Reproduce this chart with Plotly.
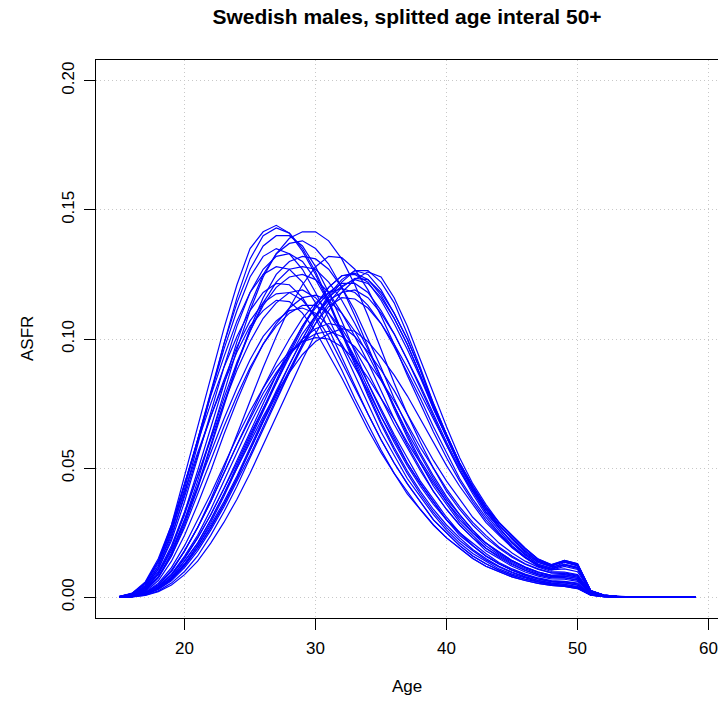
import plotly.graph_objects as go

ages = [15, 16, 17, 18, 19, 20, 21, 22, 23, 24, 25, 26, 27, 28, 29, 30, 31, 32, 33, 34,
        35, 36, 37, 38, 39, 40, 41, 42, 43, 44, 45, 46, 47, 48, 49, 50, 51, 52, 53, 54,
        55, 56, 57, 58, 59]

asfr_e1 = [.0003, .0015, .0055, .014, .028, .047, .067, .086, .104, .121,
           .135, .1415, .144, .141, .134, .125, .114, .102, .090, .078,
           .067, .057, .048, .040, .033, .027, .022, .018, .0145, .0118,
           .0095, .0078, .0065, .0055, .0050, .0040, .0010, .0004, .0002, .0001,
           .0001, .0001, 0, 0, 0]
asfr_e2 = [.0002, .001, .004, .011, .023, .040, .059, .079, .098, .116,
           .131, .140, .143, .141, .135, .126, .115, .103, .091, .079,
           .068, .058, .049, .041, .034, .028, .023, .0185, .015, .012,
           .0098, .008, .0066, .0056, .0050, .0042, .0011, .0004, .0002, .0001,
           .0001, 0, 0, 0, 0]
asfr_e3 = [.0003, .0014, .005, .013, .026, .043, .061, .079, .096, .111,
           .124, .132, .135, .133, .127, .118, .108, .097, .086, .075,
           .064, .055, .046, .039, .032, .026, .021, .017, .014, .011,
           .009, .0074, .0061, .0052, .0046, .0038, .0009, .0003, .0002, .0001,
           .0001, 0, 0, 0, 0]
asfr_e4 = [.0003, .0015, .0055, .014, .027, .044, .061, .078, .093, .107,
           .118, .125, .128, .127, .122, .114, .104, .093, .082, .071,
           .061, .052, .044, .037, .030, .025, .020, .016, .013, .0105,
           .0085, .007, .0058, .0049, .0044, .0036, .0009, .0003, .0001, .0001,
           0, 0, 0, 0, 0]
asfr_e5 = [.0002, .0012, .0045, .012, .024, .039, .055, .070, .084, .097,
           .107, .114, .1175, .118, .115, .109, .101, .091, .081, .071,
           .061, .052, .044, .037, .030, .025, .020, .016, .013, .0105,
           .0085, .007, .0058, .0049, .0045, .0037, .0009, .0003, .0001, .0001,
           0, 0, 0, 0, 0]
asfr_e6 = [.0002, .0011, .004, .011, .022, .037, .054, .072, .089, .105,
           .118, .127, .132, .133, .130, .123, .114, .103, .092, .081,
           .070, .060, .051, .043, .036, .030, .024, .020, .016, .013,
           .0105, .0086, .0071, .0061, .0056, .0047, .0011, .0004, .0002, .0001,
           0, 0, 0, 0, 0]
asfr_e7 = [.0003, .0016, .006, .015, .028, .044, .060, .075, .089, .101,
           .111, .118, .1215, .121, .116, .108, .098, .088, .077, .067,
           .057, .048, .041, .034, .028, .023, .019, .015, .012, .0098,
           .0079, .0065, .0054, .0046, .0042, .0034, .0008, .0003, .0001, .0001,
           0, 0, 0, 0, 0]
asfr_e8 = [.0002, .0012, .0045, .012, .025, .042, .061, .080, .098, .114,
           .127, .136, .140, .140, .136, .128, .118, .107, .095, .083,
           .072, .062, .052, .044, .037, .030, .025, .020, .016, .013,
           .0105, .0086, .0071, .0061, .0056, .0047, .0011, .0004, .0002, .0001,
           0, 0, 0, 0, 0]
asfr_e9 = [.0003, .0015, .0055, .014, .026, .041, .056, .070, .083, .095,
           .105, .111, .115, .1145, .110, .103, .094, .085, .075, .065,
           .056, .048, .040, .034, .028, .023, .019, .015, .012, .0098,
           .0079, .0065, .0054, .0046, .0042, .0034, .0008, .0003, .0001, .0001,
           0, 0, 0, 0, 0]

asfr_m1 = [.0001, .0007, .0028, .008, .017, .030, .045, .062, .079, .096,
           .111, .124, .133, .139, .1415, .1415, .138, .131, .121, .109,
           .096, .083, .071, .060, .050, .041, .034, .028, .023, .019,
           .0155, .0128, .0108, .0095, .0095, .0085, .0018, .0006, .0003, .0002,
           .0001, .0001, 0, 0, 0]
asfr_m2 = [.0001, .0008, .003, .009, .019, .033, .049, .066, .083, .099,
           .113, .125, .133, .137, .138, .135, .129, .120, .109, .097,
           .085, .073, .062, .052, .043, .036, .029, .024, .019, .016,
           .013, .0105, .0088, .0076, .0075, .0066, .0015, .0005, .0002, .0001,
           .0001, 0, 0, 0, 0]
asfr_m3 = [.0001, .0006, .0025, .0075, .016, .028, .042, .058, .074, .090,
           .104, .116, .125, .130, .132, .131, .127, .120, .111, .100,
           .089, .077, .066, .056, .047, .039, .032, .026, .021, .0175,
           .0142, .0117, .0098, .0085, .0088, .0078, .0017, .0006, .0003, .0001,
           .0001, 0, 0, 0, 0]
asfr_m4 = [.0002, .001, .0035, .0095, .019, .032, .047, .062, .077, .091,
           .103, .113, .120, .124, .125, .123, .118, .110, .101, .091,
           .080, .069, .059, .050, .041, .034, .028, .023, .018, .015,
           .012, .0098, .0082, .0071, .0070, .0062, .0014, .0005, .0002, .0001,
           0, 0, 0, 0, 0]
asfr_m5 = [.0002, .001, .0038, .010, .020, .033, .047, .061, .075, .088,
           .099, .108, .114, .118, .119, .116, .110, .102, .093, .083,
           .073, .063, .054, .045, .038, .031, .025, .021, .017, .0135,
           .011, .009, .0075, .0065, .0062, .0055, .0012, .0004, .0002, .0001,
           0, 0, 0, 0, 0]
asfr_m6 = [.0001, .0007, .0028, .0078, .016, .027, .040, .053, .066, .078,
           .089, .098, .105, .110, .113, .113, .110, .104, .096, .087,
           .077, .067, .058, .049, .041, .034, .028, .023, .019, .0155,
           .0126, .0104, .0087, .0075, .0076, .0068, .0015, .0005, .0002, .0001,
           0, 0, 0, 0, 0]
asfr_m7 = [.0002, .0009, .0033, .009, .018, .030, .043, .056, .069, .081,
           .092, .101, .107, .111, .112, .110, .105, .098, .089, .080,
           .070, .061, .052, .044, .037, .030, .025, .020, .016, .013,
           .0106, .0087, .0072, .0062, .0060, .0052, .0012, .0004, .0002, .0001,
           0, 0, 0, 0, 0]
asfr_m8 = [.0001, .0007, .0027, .0078, .017, .029, .043, .059, .075, .090,
           .103, .114, .122, .127, .128, .127, .122, .115, .106, .096,
           .085, .074, .063, .053, .045, .037, .030, .025, .020, .0165,
           .0135, .011, .0092, .008, .0082, .0073, .0016, .0005, .0002, .0001,
           .0001, 0, 0, 0, 0]
asfr_m9 = [.0001, .0006, .0022, .0065, .014, .024, .036, .049, .063, .076,
           .088, .098, .106, .112, .116, .117, .115, .110, .103, .094,
           .084, .074, .064, .055, .046, .038, .032, .026, .021, .0175,
           .0142, .0117, .0098, .0085, .0088, .0078, .0017, .0006, .0003, .0001,
           .0001, 0, 0, 0, 0]

asfr_l1 = [.0001, .0004, .0016, .0048, .010, .018, .027, .037, .048, .059,
           .069, .079, .087, .094, .099, .102, .103, .101, .097, .091,
           .084, .076, .067, .058, .050, .042, .035, .029, .024, .0195,
           .016, .013, .011, .0095, .0092, .0082, .0018, .0006, .0003, .0001,
           .0001, 0, 0, 0, 0]
asfr_l2 = [.0001, .0004, .0014, .0042, .009, .016, .024, .034, .045, .056,
           .067, .077, .086, .094, .100, .104, .106, .105, .101, .095,
           .088, .080, .071, .062, .053, .045, .038, .031, .026, .021,
           .0172, .014, .0117, .010, .0098, .0088, .0019, .0007, .0003, .0001,
           .0001, 0, 0, 0, 0]
asfr_l3 = [.0001, .0005, .0019, .0055, .0115, .020, .030, .040, .051, .062,
           .072, .081, .089, .095, .099, .1005, .100, .097, .092, .085,
           .077, .069, .060, .052, .044, .037, .031, .025, .021, .017,
           .014, .0115, .0096, .0083, .0082, .0073, .0016, .0005, .0002, .0001,
           0, 0, 0, 0, 0]
asfr_l4 = [.0001, .0003, .0012, .0036, .0078, .014, .021, .030, .040, .050,
           .060, .070, .079, .087, .094, .099, .102, .104, .103, .099,
           .093, .086, .078, .069, .060, .051, .043, .036, .029, .024,
           .0192, .0153, .0124, .0106, .0110, .0099, .0021, .0007, .0003, .0001,
           .0001, 0, 0, 0, 0]

asfr_t1 = [.0001, .0003, .0011, .0032, .0068, .0122, .019, .027, .036, .046,
           .057, .068, .079, .090, .100, .109, .117, .123, .1265, .125,
           .119, .110, .100, .088, .074, .062, .051, .042, .034, .028,
           .0225, .0175, .0135, .0120, .0143, .0130, .0026, .0009, .0004, .0002,
           .0001, .0001, 0, 0, 0]
asfr_t2 = [.0001, .0004, .0013, .0037, .0078, .014, .021, .030, .040, .051,
           .062, .073, .084, .095, .105, .113, .120, .1245, .125, .122,
           .115, .106, .096, .085, .073, .062, .051, .042, .034, .027,
           .021, .0165, .0128, .0113, .0135, .0122, .0024, .0008, .0004, .0002,
           .0001, .0001, 0, 0, 0]
asfr_t3 = [.0001, .0004, .0014, .004, .0085, .015, .023, .032, .042, .053,
           .064, .075, .086, .096, .105, .112, .118, .1215, .1215, .118,
           .111, .102, .092, .081, .070, .059, .049, .040, .032, .026,
           .020, .0158, .0122, .0108, .0128, .0116, .0023, .0008, .0003, .0002,
           .0001, 0, 0, 0, 0]
asfr_t4 = [0, .0002, .0008, .0025, .0055, .010, .016, .024, .033, .043,
           .054, .065, .076, .087, .098, .108, .116, .122, .1265, .1265,
           .122, .114, .102, .089, .075, .063, .052, .043, .035, .029,
           .024, .019, .0148, .0126, .0142, .0128, .0026, .0009, .0004, .0002,
           .0001, .0001, 0, 0, 0]
asfr_t5 = [.0001, .0005, .0018, .005, .0105, .018, .027, .037, .048, .059,
           .070, .081, .091, .100, .108, .114, .118, .1195, .118, .113,
           .106, .097, .087, .077, .066, .056, .046, .038, .031, .025,
           .0195, .0153, .012, .0105, .0120, .0108, .0022, .0008, .0003, .0001,
           .0001, 0, 0, 0, 0]
asfr_t6 = [.0001, .0005, .0017, .0048, .010, .018, .027, .038, .050, .063,
           .076, .089, .101, .112, .121, .128, .132, .1315, .127, .119,
           .109, .098, .086, .075, .064, .054, .045, .037, .030, .0245,
           .0195, .0155, .0123, .0108, .0125, .0112, .0023, .0008, .0003, .0001,
           .0001, 0, 0, 0, 0]
asfr_t7 = [.0001, .0003, .0011, .0033, .007, .0125, .019, .027, .036, .046,
           .057, .068, .078, .088, .098, .106, .1125, .116, .1155, .112,
           .106, .098, .089, .079, .069, .059, .049, .041, .033, .027,
           .0215, .017, .0135, .0118, .0128, .0115, .0023, .0008, .0003, .0002,
           .0001, 0, 0, 0, 0]
asfr_t8 = [.0001, .0003, .001, .003, .0064, .0115, .018, .026, .035, .045,
           .055, .066, .077, .087, .097, .106, .114, .120, .1235, .123,
           .118, .110, .100, .088, .075, .063, .052, .043, .035, .029,
           .024, .0188, .0145, .0125, .0138, .0124, .0025, .0009, .0004, .0002,
           .0001, 0, 0, 0, 0]
asfr_t9 = [.0001, .0004, .0012, .0035, .0074, .013, .020, .029, .039, .050,
           .061, .072, .083, .094, .104, .113, .120, .1245, .1255, .123,
           .117, .108, .098, .086, .073, .062, .051, .042, .034, .028,
           .023, .018, .014, .0122, .0140, .0126, .0025, .0009, .0004, .0002,
           .0001, 0, 0, 0, 0]
asfr_t10 = [0, .0002, .0007, .0022, .0048, .0088, .014, .021, .029, .038,
            .048, .059, .070, .081, .092, .102, .111, .118, .123, .126,
            .124, .116, .105, .092, .079, .066, .054, .044, .036, .029,
            .024, .019, .0148, .0127, .0143, .0130, .0026, .0009, .0004, .0002,
            .0001, .0001, 0, 0, 0]
asfr_t11 = [.0001, .0003, .0012, .0034, .0072, .0128, .020, .028, .037, .047,
            .058, .069, .080, .090, .100, .109, .116, .1205, .123, .1215,
            .116, .108, .098, .086, .074, .063, .052, .043, .035, .028,
            .023, .018, .014, .0122, .0138, .0124, .0025, .0009, .0004, .0002,
            .0001, 0, 0, 0, 0]
asfr_t12 = [.0001, .0004, .0015, .0042, .0088, .0155, .023, .032, .042, .052,
            .063, .073, .083, .093, .102, .109, .115, .118, .119, .116,
            .110, .102, .092, .082, .071, .060, .050, .041, .033, .027,
            .021, .0165, .0128, .0112, .0125, .0113, .0023, .0008, .0003, .0002,
            .0001, 0, 0, 0, 0]

curves = [asfr_e1, asfr_e2, asfr_e3, asfr_e4, asfr_e5, asfr_e6, asfr_e7, asfr_e8, asfr_e9,
          asfr_m1, asfr_m2, asfr_m3, asfr_m4, asfr_m5, asfr_m6, asfr_m7, asfr_m8, asfr_m9,
          asfr_l1, asfr_l2, asfr_l3, asfr_l4,
          asfr_t1, asfr_t2, asfr_t3, asfr_t4, asfr_t5, asfr_t6, asfr_t7, asfr_t8, asfr_t9,
          asfr_t10, asfr_t11, asfr_t12]

x_ticks = [20, 30, 40, 50, 60]
y_ticks = [0.0, 0.05, 0.10, 0.15, 0.20]
y_ticklabels = ["0.00", "0.05", "0.10", "0.15", "0.20"]

fig = go.Figure()
for c in curves:
    fig.add_trace(go.Scatter(x=ages, y=c, mode="lines",
                             line=dict(color="#0000FF", width=1.2),
                             hoverinfo="skip", showlegend=False))

FONT = "Liberation Sans, Arial, Helvetica, sans-serif"
GRID = dict(showgrid=True, gridcolor="#c8c8c8", griddash="1px,3px", gridwidth=1)
fig.update_layout(
    template="none",
    width=718, height=706,
    margin=dict(l=96, r=0, t=60, b=88, pad=0),
    paper_bgcolor="white", plot_bgcolor="white",
    font=dict(family=FONT, size=17, color="black"),
    title=dict(text="<b>Swedish males, splitted age interal 50+</b>",
               x=0.5, xref="paper", xanchor="center",
               y=1 - 17 / 706, yref="container", yanchor="middle",
               font=dict(size=21, family=FONT, color="black")),
    showlegend=False,
)
fig.update_xaxes(range=[13.24, 60.72], tickvals=x_ticks, ticks="outside", ticklen=11,
                 tickcolor="black", tickwidth=1, showline=True, linecolor="black",
                 linewidth=1, mirror=True, zeroline=False, automargin=False,
                 ticklabeloverflow="allow", ticklabelstandoff=4,
                 tickfont=dict(size=17, color="black"), **GRID)
fig.update_yaxes(range=[-0.008, 0.208], tickvals=y_ticks, ticktext=y_ticklabels,
                 tickangle=-90, ticks="outside", ticklen=11, tickcolor="black",
                 tickwidth=1, showline=True, linecolor="black", linewidth=1,
                 mirror=False, zeroline=False, automargin=False,
                 ticklabeloverflow="allow", ticklabelstandoff=3,
                 tickfont=dict(size=17, color="black"), **GRID)
fig.add_annotation(text="ASFR", x=(27 - 96) / 622, y=0.5, xref="paper", yref="paper",
                   textangle=-90, showarrow=False, xanchor="center", yanchor="middle",
                   font=dict(size=17, color="black"))
fig.add_annotation(text="Age", x=0.5, y=(618 - 686) / 558, xref="paper", yref="paper",
                   showarrow=False, xanchor="center", yanchor="middle",
                   font=dict(size=17, color="black"))
fig.write_html("out.html", config={"displayModeBar": False, "staticPlot": True},
               post_script="document.body.style.margin='0';document.body.style.overflow='hidden';")
